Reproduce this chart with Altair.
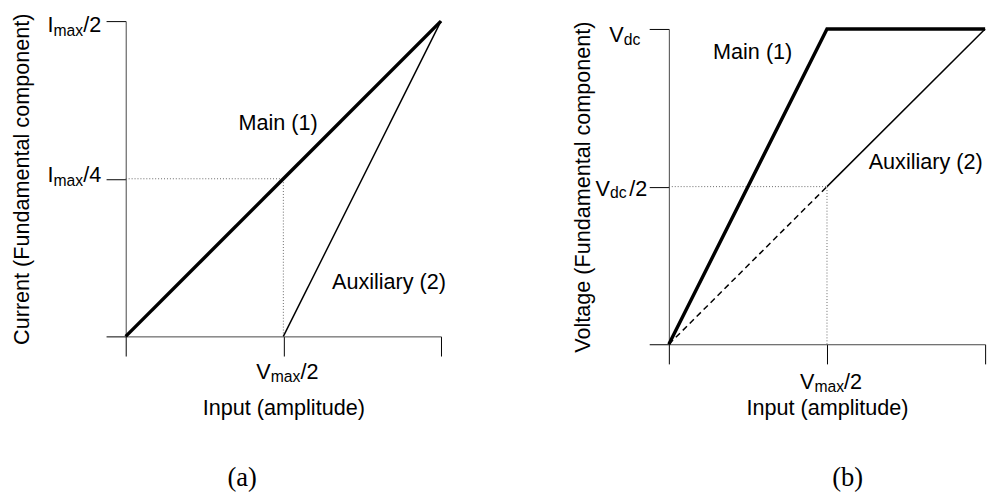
import altair as alt
import pandas as pd

SANS = "Liberation Sans"
SERIF = "Liberation Serif"

# Input amplitude, normalised to V_max
input_pts = [0.0, 0.5, 1.0]

# (a) fundamental current, in units of I_max
main_current = [0.0, 0.25, 0.5]
aux_input = [0.5, 1.0]
aux_current = [0.0, 0.5]
current_ticks = [0.0, 0.25, 0.5]

# (b) fundamental voltage, in units of V_dc
main_voltage = [0.0, 1.0, 1.0]
aux_voltage = [0.0, 0.5, 1.0]
voltage_ticks = [0.0, 0.5, 1.0]

# series annotations: (text, x, y)
labels_a = [("Main (1)", 0.483, 0.338), ("Auxiliary (2)", 0.835, 0.086)]
labels_b = [("Main (1)", 0.265, 0.928), ("Auxiliary (2)", 0.812, 0.579)]

BIG = 22
SUB = 16
TXT = 22


def encodings(ydom, yrange, yticks, ytitle, ypad, xpad):
    x = alt.X(
        "x:Q",
        scale=alt.Scale(domain=[0, 1], nice=False, zero=True),
        axis=alt.Axis(
            values=input_pts, labels=False, tickSize=20, tickColor="black",
            domainColor="#444", grid=False, title="Input (amplitude)",
            titleFont=SANS, titleFontSize=TXT, titleFontWeight="normal",
            titleColor="black", titlePadding=xpad,
        ),
    )
    yscale = dict(domain=ydom, nice=False, zero=True)
    if yrange:
        yscale["range"] = yrange
    y = alt.Y(
        "y:Q",
        scale=alt.Scale(**yscale),
        axis=alt.Axis(
            values=yticks, labels=False, tickSize=20, tickColor="black",
            domainColor="#444", grid=False, title=ytitle,
            titleFont=SANS, titleFontSize=TXT, titleFontWeight="normal",
            titleColor="black", titlePadding=ypad,
        ),
    )
    return x, y


def line(xs, ys, X, Y, width, dash=None):
    kw = dict(color="black", strokeWidth=width)
    if dash:
        kw["strokeDash"] = dash
    return alt.Chart(pd.DataFrame({"x": xs, "y": ys})).mark_line(**kw).encode(x=X, y=Y)


def guides(xv, yv, X, Y):
    df = pd.DataFrame({"x": [0.0, xv], "y": [yv, 0.0], "x2": [xv, xv], "y2": [yv, yv]})
    return alt.Chart(df).mark_rule(color="#666", strokeWidth=1, strokeDash=[1, 2]).encode(
        x=X, y=Y, x2="x2:Q", y2="y2:Q"
    )


def piece(xv, yv, text, dx, dy, size, align, X, Y):
    df = pd.DataFrame({"x": [xv], "y": [yv], "t": [text]})
    return alt.Chart(df).mark_text(
        dx=dx, dy=dy, fontSize=size, align=align, baseline="alphabetic",
        font=SANS, color="black",
    ).encode(x=X, y=Y, text="t:N")


def annotations(items, X, Y):
    df = pd.DataFrame({"t": [t for t, _, _ in items], "x": [a for _, a, _ in items],
                       "y": [b for _, _, b in items]})
    return alt.Chart(df).mark_text(
        fontSize=TXT, font=SANS, color="black", align="center", baseline="middle"
    ).encode(x=X, y=Y, text="t:N")


def vmax_label(X, Y, drop):
    v = input_pts[1]
    return [
        piece(v, 0, "V", -27.5, drop, BIG, "left", X, Y),
        piece(v, 0, "max", -12.8, drop + 3, SUB, "left", X, Y),
        piece(v, 0, "/2", 17.4, drop, BIG, "left", X, Y),
    ]


def caption(text, dx, offset):
    return alt.TitleParams(text, orient="bottom", font=SERIF, fontSize=27,
                           fontWeight="normal", color="black", dx=dx, offset=offset)


# ---- panel (a): current ----
Xa, Ya = encodings([0, 0.5], None, current_ticks, "Current (Fundamental component)", 73, 42)
panel_a = alt.layer(
    guides(input_pts[1], main_current[1], Xa, Ya),
    line(input_pts, main_current, Xa, Ya, 3.5),
    line(aux_input, aux_current, Xa, Ya, 1.5),
    annotations(labels_a, Xa, Ya),
    piece(0, current_ticks[2], "I", -73.5, 11, BIG, "right", Xa, Ya),
    piece(0, current_ticks[2], "max", -43.3, 15, SUB, "right", Xa, Ya),
    piece(0, current_ticks[2], "/2", -25, 11, BIG, "right", Xa, Ya),
    piece(0, current_ticks[1], "I", -73.5, 3, BIG, "right", Xa, Ya),
    piece(0, current_ticks[1], "max", -43.3, 7, SUB, "right", Xa, Ya),
    piece(0, current_ticks[1], "/4", -25, 3, BIG, "right", Xa, Ya),
    *vmax_label(Xa, Ya, 43),
).properties(width=321, height=321, title=caption("(a)", -42, 48))

# ---- panel (b): voltage (plot area sits 8 px lower) ----
Xb, Yb = encodings([0, 1], [329, 8], voltage_ticks, "Voltage (Fundamental component)", 55, 34)
panel_b = alt.layer(
    guides(input_pts[1], aux_voltage[1], Xb, Yb),
    line(input_pts, main_voltage, Xb, Yb, 3.5),
    line(input_pts[:2], aux_voltage[:2], Xb, Yb, 1.5, dash=[6, 4]),
    line(input_pts[1:], aux_voltage[1:], Xb, Yb, 1.5),
    annotations(labels_b, Xb, Yb),
    piece(0, voltage_ticks[2], "V", -46, 13, BIG, "right", Xb, Yb),
    piece(0, voltage_ticks[2], "dc", -29, 16, SUB, "right", Xb, Yb),
    piece(0, voltage_ticks[1], "V", -60, 10, BIG, "right", Xb, Yb),
    piece(0, voltage_ticks[1], "dc", -43, 12, SUB, "right", Xb, Yb),
    piece(0, voltage_ticks[1], "/2", -22, 10, BIG, "right", Xb, Yb),
    *vmax_label(Xb, Yb, 46),
).properties(width=322, height=329, title=caption("(b)", 21, 48))

chart = (
    alt.hconcat(panel_a, panel_b, spacing=126)
    .properties(padding={"left": 11, "top": 8, "right": 0, "bottom": 0}, background="white")
    .configure_view(stroke=None)
)

chart.save("out.html", embed_options={"renderer": "svg", "actions": False})
